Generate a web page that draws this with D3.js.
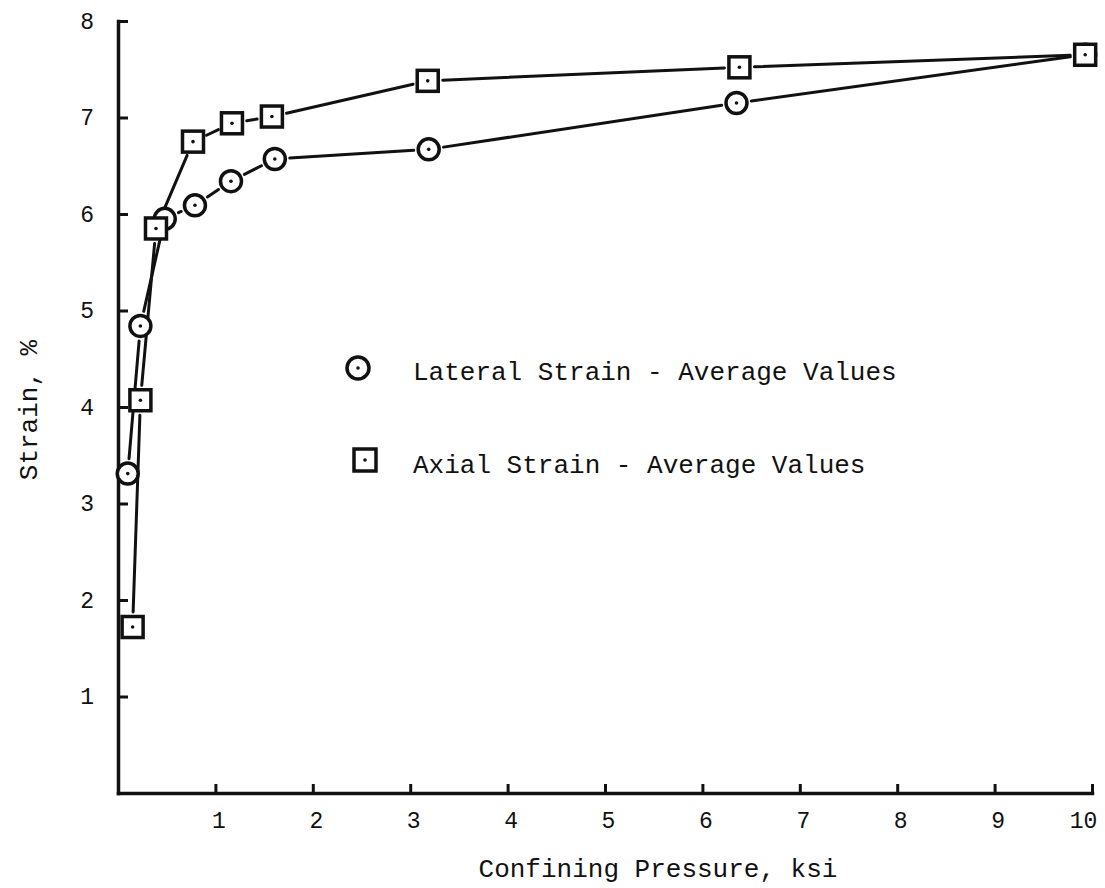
<!DOCTYPE html>
<html>
<head>
<meta charset="utf-8">
<script src="https://cdn.jsdelivr.net/npm/d3@7/dist/d3.min.js"></script>
<style>
  html, body { margin: 0; padding: 0; background: #fff; }
  svg { display: block; }
  text { font-family: "Liberation Mono", "DejaVu Sans Mono", monospace; fill: #111; }
</style>
</head>
<body>
<svg id="chart" width="1105" height="888"></svg>
<script>
// Confining pressure (ksi) and strain (%) for the two averaged series
const lateralPressure = [0.10, 0.23, 0.48, 0.79, 1.16, 1.61, 3.19, 6.35, 9.93];
const lateralStrain   = [3.31, 4.84, 5.95, 6.09, 6.34, 6.57, 6.67, 7.15, 7.65];
const axialPressure   = [0.15, 0.23, 0.39, 0.77, 1.17, 1.58, 3.18, 6.38, 9.93];
const axialStrain     = [1.72, 4.07, 5.85, 6.75, 6.94, 7.01, 7.38, 7.52, 7.65];

const xTicks = [1, 2, 3, 4, 5, 6, 7, 8, 9, 10];
const yTicks = [1, 2, 3, 4, 5, 6, 7, 8];

const legendLabels = ["Lateral Strain - Average Values", "Axial Strain - Average Values"];
const xTitle = "Confining Pressure, ksi";
const yTitle = "Strain, %";

const svg = d3.select("#chart");
const ink = "#111";

const x = d3.scaleLinear().domain([0, 10]).range([118, 1092]);
const y = d3.scaleLinear().domain([0, 8]).range([793, 21]);

// Axes with ticks pointing into the plot
const xAxis = svg.append("g")
  .attr("transform", `translate(0,${y(0)})`)
  .call(d3.axisBottom(x).tickValues(xTicks).tickSizeInner(-9).tickSizeOuter(0)
    .tickPadding(19).tickFormat(d3.format("d")));
const yAxis = svg.append("g")
  .attr("transform", `translate(${x(0)},0)`)
  .call(d3.axisLeft(y).tickValues(yTicks).tickSizeInner(-10).tickSizeOuter(0)
    .tickPadding(24).tickFormat(d3.format("d")));

[xAxis, yAxis].forEach(g => {
  g.select(".domain").attr("stroke", ink).attr("stroke-width", 3.5).attr("stroke-linecap", "square");
  g.selectAll(".tick line").attr("stroke", ink).attr("stroke-width", 3);
  g.selectAll(".tick text").attr("fill", ink).style("font-size", "23px")
    .style("font-family", '"Liberation Mono", "DejaVu Sans Mono", monospace');
});
xAxis.selectAll(".tick text").attr("dx", d => d === 10 ? -9 : 3);

// Axis titles
svg.append("text")
  .attr("x", 658).attr("y", 877)
  .attr("text-anchor", "middle")
  .style("font-size", "26px")
  .text(xTitle);
svg.append("text")
  .attr("transform", "translate(37,410) rotate(-90)")
  .attr("text-anchor", "middle")
  .style("font-size", "26px")
  .text(yTitle);

// Connecting lines, trimmed so they stop short of each marker
const trim = 15;
function drawSegments(xs, ys) {
  const pts = xs.map((v, i) => [x(v), y(ys[i])]);
  const segs = d3.pairs(pts).map(([a, b]) => {
    const dx = b[0] - a[0], dy = b[1] - a[1];
    const len = Math.hypot(dx, dy);
    const ux = dx / len, uy = dy / len;
    return [[a[0] + ux * trim, a[1] + uy * trim], [b[0] - ux * trim, b[1] - uy * trim]];
  });
  svg.append("g").selectAll("line").data(segs).join("line")
    .attr("x1", d => d[0][0]).attr("y1", d => d[0][1])
    .attr("x2", d => d[1][0]).attr("y2", d => d[1][1])
    .attr("stroke", ink).attr("stroke-width", 3).attr("stroke-linecap", "round");
}
drawSegments(lateralPressure, lateralStrain);
drawSegments(axialPressure, axialStrain);

// Marker shapes: open circle / open square with a centre dot
const half = 10.5;
function circleMarker(g, cx, cy, r = half) {
  g.append("circle").attr("cx", cx).attr("cy", cy).attr("r", r)
    .attr("fill", "#fff").attr("stroke", ink).attr("stroke-width", 3.5);
  g.append("circle").attr("cx", cx).attr("cy", cy).attr("r", 1.8).attr("fill", ink);
}
function squareMarker(g, cx, cy, h = half) {
  g.append("rect").attr("x", cx - h).attr("y", cy - h)
    .attr("width", h * 2).attr("height", h * 2)
    .attr("fill", "#fff").attr("stroke", ink).attr("stroke-width", 3.5);
  g.append("circle").attr("cx", cx).attr("cy", cy).attr("r", 1.8).attr("fill", ink);
}

const lateralG = svg.append("g");
lateralPressure.forEach((p, i) => circleMarker(lateralG, x(p), y(lateralStrain[i])));
const axialG = svg.append("g");
axialPressure.forEach((p, i) => squareMarker(axialG, x(p), y(axialStrain[i])));

// Legend
const legend = svg.append("g");
circleMarker(legend, 358, 368, 11);
squareMarker(legend, 365, 460, 11);
legend.append("text").attr("x", 413).attr("y", 380).style("font-size", "26px").text(legendLabels[0]);
legend.append("text").attr("x", 413).attr("y", 473).style("font-size", "26px").text(legendLabels[1]);
</script>
</body>
</html>
